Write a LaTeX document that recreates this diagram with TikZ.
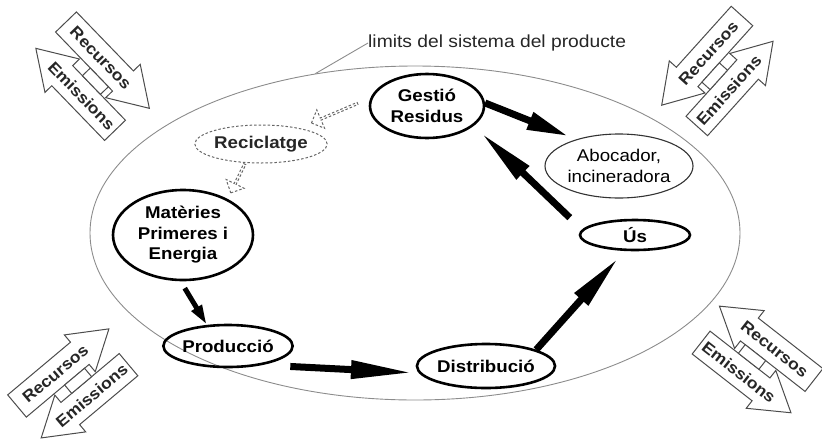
\documentclass[tikz,border=0pt]{standalone}
\usepackage{fontspec}
\setmainfont{Liberation Sans}[FakeStretch=1.1]
\usetikzlibrary{arrows.meta,shapes.geometric,shapes.arrows}

\tikzset{
  boldnode/.style={ellipse, draw=black, line width=2.6pt, inner sep=0pt, align=center,
    font=\fontsize{17}{20.5}\selectfont\bfseries},
  thinnode/.style={ellipse, draw=black!80, line width=1.1pt, inner sep=0pt, align=center,
    font=\fontsize{17}{20.5}\selectfont},
  dashnode/.style={ellipse, draw=black!60, line width=1pt, dash pattern=on 2.5pt off 2pt,
    inner sep=0pt, align=center, text=black!85, font=\fontsize{17}{20.5}\selectfont\bfseries},
  sysline/.style={draw=black!45, line width=0.9pt},
  bigarrow/.style={line width=7pt, draw=black, -{Triangle[length=#1, width=17pt]}},
  smallarrow/.style={line width=5pt, draw=black, -{Triangle[length=20pt, width=11pt]}},
  recarrow/.style={single arrow, draw=black!60, line width=1pt, dash pattern=on 2.5pt off 2pt,
    inner sep=0pt, single arrow head extend=4pt},
  cornerline/.style={draw=black!70, line width=1pt, fill=white, line join=miter},
  cornertext/.style={inner sep=0pt, font=\fontsize{16}{18}\selectfont\bfseries, text=black!85},
}

% #1 origin, #2 axis angle, #3 side sign, #4 text angle, #5 name prefix
\newcommand\cornerpair[5]{%
  \begin{scope}[shift={(#1)}, x=1pt, y=1pt, rotate=#2]
    \draw[cornerline] (0,14.5) -- (82,14.5) -- (82,24) -- (120,0) -- (82,-24) -- (82,-14.5) -- (0,-14.5) -- cycle;
    \draw[cornerline] (112,{#3*25.5}) -- (36,{#3*25.5}) -- (36,{#3*16}) -- (-2,{#3*40})
       -- (36,{#3*64}) -- (36,{#3*54.5}) -- (112,{#3*54.5}) -- cycle;
    \draw[cornerline] (50,{#3*14.5}) rectangle (76,{#3*25.5});
    \node[cornertext, rotate=#4] (#5rec) at (50,0) {Recursos};
    \node[cornertext, rotate=#4] (#5emi) at (64,{#3*40}) {Emissions};
  \end{scope}}

\begin{document}
\begin{tikzpicture}[x=1pt, y=-1pt]
\useasboundingbox (0,0) rectangle (822,445);

% system boundary
\node[ellipse, sysline, minimum width=650pt, minimum height=334pt, inner sep=0pt] (sys) at (415,233) {};
\node[anchor=west, inner sep=0pt, font=\fontsize{17.5}{20}\selectfont, text=black!85] (lim) at (368,43)
  {limits del sistema del producte};
\draw[sysline] (lim.west) -- (sys.122);

% nodes
\node[boldnode, minimum width=114pt, minimum height=64pt] (gestio) at (427,106) {Gestió\\Residus};
\node[dashnode, minimum width=112pt, minimum height=38pt] (recic) at (261,144) {Reciclatge};
\node[thinnode, minimum width=148pt, minimum height=64pt] (aboc) at (619,166) {Abocador,\\incineradora};
\node[boldnode, minimum width=110pt, minimum height=30pt] (us) at (635,235) {Ús};
\node[boldnode, minimum width=140pt, minimum height=90pt] (mat) at (183,235) {Matèries\\Primeres i\\Energia};
\node[boldnode, minimum width=112pt, minimum height=42pt] (prod) at (228,346) {Producció};
\node[boldnode, minimum width=122pt, minimum height=44pt] (distr) at (486,366) {Distribució};

% recycling (dashed) arrows
\node[recarrow, minimum height=50pt, minimum width=20pt, rotate=203] (rec1) at (335,113) {};
\node[recarrow, minimum height=32pt, minimum width=20pt, rotate=244] (rec2) at (238,178) {};

% main flow arrows
\draw[smallarrow, shorten <=8pt] (mat.-93) -- (prod.135);
\draw[bigarrow=62pt, shorten <=28pt, shorten >=6pt] (prod.-29) -- (distr.186);
\draw[bigarrow=56pt, shorten >=9pt] (distr.18) -- (us.237);
\draw[bigarrow=58pt, shorten <=17pt, shorten >=10pt] (us.174) -- (gestio.-23.6);
\draw[bigarrow=42pt, shorten >=8pt] (gestio.3) -- (aboc.148);

% resources / emissions in the corners
\cornerpair{66,22}{-46}{-1}{-46}{tl}
\cornerpair{742,16}{-132}{1}{48}{tr}
\cornerpair{17,406}{40}{-1}{40}{bl}
\cornerpair{814,380}{142}{1}{-38}{br}
\end{tikzpicture}
\end{document}
